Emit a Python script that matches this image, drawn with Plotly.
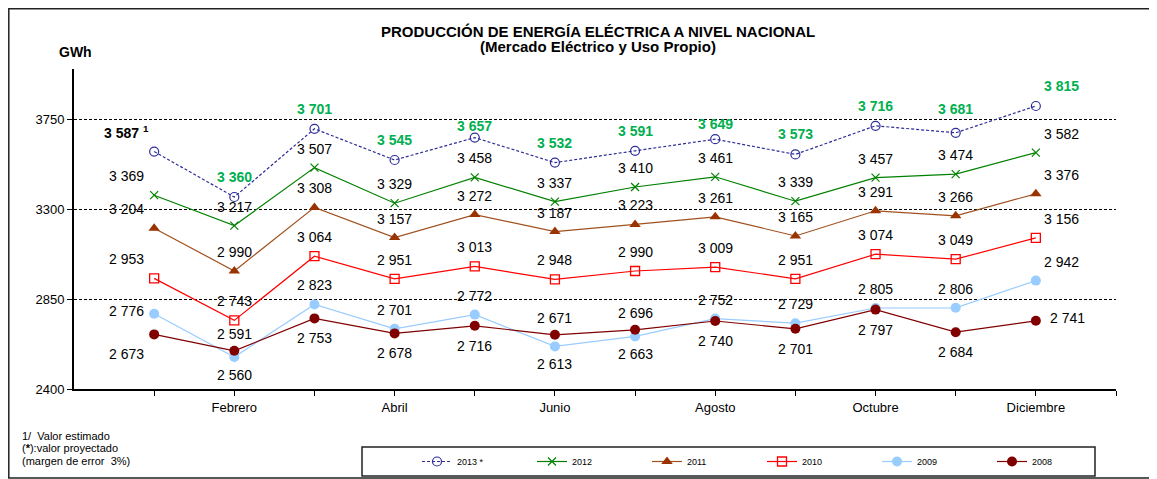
import plotly.graph_objects as go

meses = ["Enero", "Febrero", "Marzo", "Abril", "Mayo", "Junio", "Julio",
         "Agosto", "Septiembre", "Octubre", "Noviembre", "Diciembre"]
etiquetas_x = ["", "Febrero", "", "Abril", "", "Junio", "", "Agosto", "", "Octubre", "", "Diciembre"]

v2013 = [3587, 3360, 3701, 3545, 3657, 3532, 3591, 3649, 3573, 3716, 3681, 3815]
v2012 = [3369, 3217, 3507, 3329, 3458, 3337, 3410, 3461, 3339, 3457, 3474, 3582]
v2011 = [3204, 2990, 3308, 3157, 3272, 3187, 3223, 3261, 3165, 3291, 3266, 3376]
v2010 = [2953, 2743, 3064, 2951, 3013, 2948, 2990, 3009, 2951, 3074, 3049, 3156]
v2009 = [2776, 2560, 2823, 2701, 2772, 2613, 2663, 2752, 2729, 2805, 2806, 2942]
v2008 = [2673, 2591, 2753, 2678, 2716, 2671, 2696, 2740, 2701, 2797, 2684, 2741]

FONT = "Liberation Sans, Arial, sans-serif"

# the page body has an 8px margin, so the figure is shrunk by that much
OFF = 8
W, H = 1157 - OFF, 479 - OFF
# plot area in page px
L, R, T, B = 74, 1116, 69, 389


def px(x):
    return (x - L) / (R - L)


def py(y):
    return (B - y) / (B - T)


series = [
    dict(name="2013 *", y=v2013, color="#2E2E99", dash="3px,2px",
         marker=dict(symbol="circle-open", size=9, color="#2E2E99", line=dict(width=1.2, color="#2E2E99"))),
    dict(name="2012", y=v2012, color="#008000", dash="solid",
         marker=dict(symbol="x-thin-open", size=8, color="#008000", line=dict(width=1.2, color="#008000"))),
    dict(name="2011", y=v2011, color="#A0501E", dash="solid",
         marker=dict(symbol="triangle-up", size=10, color="#993300")),
    dict(name="2010", y=v2010, color="#FF0000", dash="solid",
         marker=dict(symbol="square-open", size=9, color="#FF0000", line=dict(width=1.3, color="#FF0000"))),
    dict(name="2009", y=v2009, color="#99CCFF", dash="solid",
         marker=dict(symbol="circle", size=10, color="#99CCFF")),
    dict(name="2008", y=v2008, color="#800000", dash="solid",
         marker=dict(symbol="circle", size=10, color="#800000")),
]

fig = go.Figure()
x = list(range(len(meses)))
for s in series:
    fig.add_trace(go.Scatter(
        x=x, y=s["y"], name=s["name"], mode="lines+markers",
        line=dict(color=s["color"], width=1.2, dash=s["dash"]),
        marker=s["marker"], hoverinfo="skip",
    ))


def fmt(v):
    return f"{v // 1000} {v % 1000:03d}"


# label placement: above by default, first month to the left, last to the right
def offset(name, i):
    dx, dy = 0, 19
    if name == "2013 *":
        dy = {4: 12, 7: 15, 10: 24}.get(i, 20)
    if name == "2008":
        dy = -20
        if i in (1, 5, 6):
            dy = 17
    if name == "2009" and i in (1, 5, 6):
        dy = -18
    if i == 0:
        dx = -28
        if name == "2009":
            dy = 3
    if i == 11:
        dx = 26
        if name == "2008":
            dx, dy = 32, 3
    return dx, dy


for s in series:
    for i, v in enumerate(s["y"]):
        dx, dy = offset(s["name"], i)
        txt = fmt(v)
        color = "#000000"
        bold = False
        if s["name"] == "2013 *":
            bold = True
            if i == 0:
                txt = txt + " <sup>1</sup>"
            else:
                color = "#00B050"
        fig.add_annotation(
            x=i, y=v, xref="x", yref="y", showarrow=False,
            xanchor="center", yanchor="middle",
            text=f"<b>{txt}</b>" if bold else txt,
            xshift=dx, yshift=dy,
            font=dict(family=FONT, size=14, color=color),
        )

# titles and notes
fig.add_annotation(x=px(598), y=py(32), xref="paper", yref="paper", showarrow=False,
                   xanchor="center", yanchor="middle",
                   text="<b>PRODUCCIÓN DE ENERGÍA ELÉCTRICA A NIVEL NACIONAL</b>",
                   font=dict(family=FONT, size=15, color="black"))
fig.add_annotation(x=px(598), y=py(47), xref="paper", yref="paper", showarrow=False,
                   xanchor="center", yanchor="middle",
                   text="<b>(Mercado Eléctrico y Uso Propio)</b>",
                   font=dict(family=FONT, size=15, color="black"))
fig.add_annotation(x=px(75), y=py(52), xref="paper", yref="paper", showarrow=False,
                   xanchor="center", yanchor="middle",
                   text="<b>GWh</b>", font=dict(family=FONT, size=14, color="black"))
for txt, yy in [("1/  Valor estimado", 436), ("(<b>*</b>):valor proyectado", 448),
                ("(margen de error  3%)", 461)]:
    fig.add_annotation(x=px(20), y=py(yy), xref="paper", yref="paper", showarrow=False,
                       xanchor="left", yanchor="middle",
                       text=txt, font=dict(family=FONT, size=11, color="black"))

# outer frame and legend frame
fig.add_shape(type="rect", xref="paper", yref="paper",
              x0=px(OFF + 0.8), x1=px(1152), y0=py(478), y1=py(OFF + 0.8),
              line=dict(color="#222222", width=1.5))
fig.add_shape(type="rect", xref="paper", yref="paper",
              x0=px(362), x1=px(1095), y0=py(476), y1=py(447),
              line=dict(color="#222222", width=1.5))

fig.update_xaxes(
    range=[-1, 12], tickvals=list(range(13)), ticktext=etiquetas_x + [""],
    showline=True, linecolor="black", linewidth=2,
    ticks="outside", ticklen=5, tickcolor="black", tickwidth=1,
    showgrid=False, zeroline=False, automargin=False,
    tickfont=dict(family=FONT, size=13, color="black"),
)
fig.update_yaxes(
    range=[2400, 4000], tickvals=[2400, 2850, 3300, 3750],
    showline=True, linecolor="black", linewidth=2,
    ticks="outside", ticklen=5, tickcolor="black", tickwidth=1,
    showgrid=True, gridcolor="black", gridwidth=1, griddash="3px,2px",
    zeroline=False, automargin=False,
    tickfont=dict(family=FONT, size=13, color="black"),
)

fig.update_layout(
    width=W, height=H,
    margin=dict(l=L - OFF, r=W - (R - OFF), t=T - OFF, b=H - (B - OFF), autoexpand=False),
    paper_bgcolor="white", plot_bgcolor="white",
    font=dict(family=FONT, color="black"),
    showlegend=True,
    legend=dict(
        orientation="h", x=px(417), xanchor="left", y=py(461.5), yanchor="middle",
        font=dict(family=FONT, size=9, color="black"),
        bgcolor="rgba(0,0,0,0)", borderwidth=0,
        entrywidth=70, entrywidthmode="pixels",
    ),
)

fig.write_html("out.html")
